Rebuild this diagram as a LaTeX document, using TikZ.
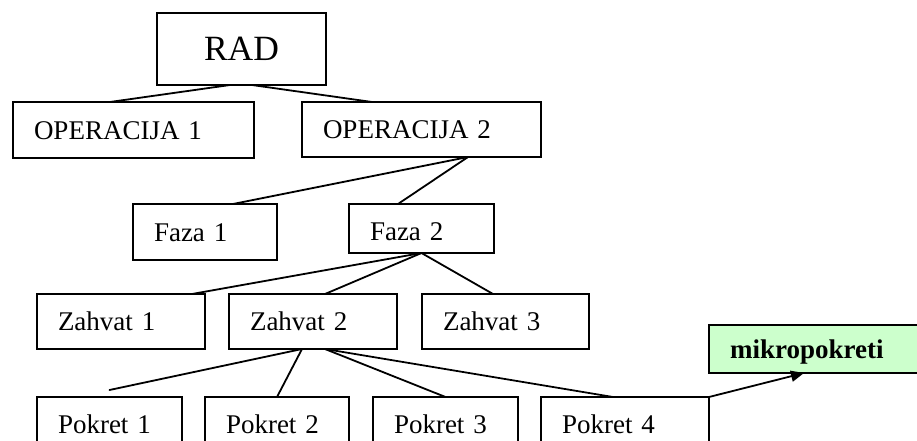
\documentclass[tikz,border=0pt]{standalone}
\usepackage{fontspec}
\setmainfont{Liberation Serif}
\usetikzlibrary{arrows.meta}
\begin{document}
\begin{tikzpicture}[x=1pt,y=-1pt,
  every node/.style={outer sep=0pt},
  bx/.style={draw=black, line width=1.8pt, rectangle, inner xsep=21pt, inner ysep=0pt,
    align=left, text height=18.5pt, text depth=0pt, anchor=north west,
    font=\fontsize{27}{30}\selectfont},
  topbx/.style={draw=black, line width=1.8pt, rectangle, inner sep=0pt, anchor=north west,
    text height=24pt, text depth=0pt, font=\fontsize{35.5}{40}\selectfont},
  greenbx/.style={bx, fill=green!20, font=\fontsize{27}{30}\selectfont\bfseries},
  conn/.style={line width=1.8pt, line cap=round},
  arr/.style={line width=1.8pt, -{Triangle[length=13pt,width=11pt]}}]
\useasboundingbox (0,0) rectangle (917,441);
\clip (0,0) rectangle (917,441);
\fill[white] (0,0) rectangle (917,441);

% level 0
\node[topbx, minimum width=169pt, minimum height=72pt] (rad) at (157,13) {RAD};
% level 1
\node[bx, text width=199pt, minimum height=56pt] (op1) at (13,102) {OPERACIJA 1};
\node[bx, text width=197pt, minimum height=55pt] (op2) at (302,102) {OPERACIJA 2};
% level 2
\node[bx, text width=102pt, minimum height=56pt] (f1) at (133,204) {Faza 1};
\node[bx, text width=103pt, minimum height=49pt, text height=23.5pt] (f2) at (349,204) {Faza 2};
% level 3
\node[bx, text width=126pt, minimum height=55pt] (z1) at (37,294) {Zahvat 1};
\node[bx, text width=126pt, minimum height=55pt] (z2) at (229,294) {Zahvat 2};
\node[bx, text width=125pt, minimum height=55pt] (z3) at (422,294) {Zahvat 3};
% level 4
\node[bx, text width=103pt, minimum height=55pt] (p1) at (37,397) {Pokret 1};
\node[bx, text width=102pt, minimum height=55pt] (p2) at (205,397) {Pokret 2};
\node[bx, text width=103pt, minimum height=55pt] (p3) at (373,397) {Pokret 3};
\node[bx, text width=126pt, minimum height=55pt] (p4) at (541,397) {Pokret 4};
% micro
\node[greenbx, text width=200pt, minimum height=48pt] (mk) at (709,325) {mikropokreti};

% connectors
\draw[conn] ([xshift=-11.5pt]rad.south) -- ([xshift=-23.5pt]op1.north);
\draw[conn] ([xshift=10.5pt]rad.south) -- ([xshift=-49.5pt]op2.north);
\draw[conn] ([xshift=46.5pt]op2.south) -- ([xshift=28pt]f1.north);
\draw[conn] ([xshift=46.5pt]op2.south) -- ([xshift=-23.5pt]f2.north);
\draw[conn] (f2.south) -- ([xshift=71pt]z1.north);
\draw[conn] (f2.south) -- ([xshift=12pt]z2.north);
\draw[conn] (f2.south) -- ([xshift=-12.5pt]z3.north);
\draw[conn] ([xshift=-11pt]z2.south) -- ([yshift=7pt]p1.north);
\draw[conn] ([xshift=-11pt]z2.south) -- (p2.north);
\draw[conn] ([xshift=12pt]z2.south) -- (p3.north);
\draw[conn] ([xshift=12pt]z2.south) -- ([xshift=-12pt]p4.north);
\draw[arr] (p4.north east) -- ([xshift=95pt]mk.south west);
\end{tikzpicture}
\end{document}
